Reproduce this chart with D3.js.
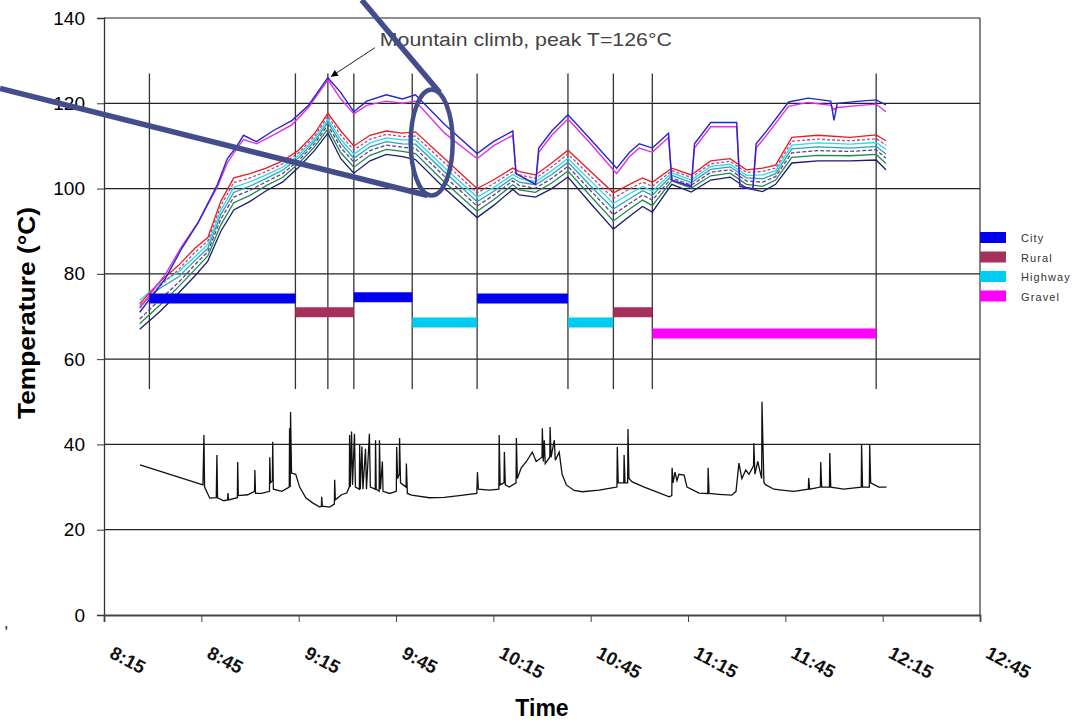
<!DOCTYPE html>
<html><head><meta charset="utf-8">
<script src="https://cdn.jsdelivr.net/npm/d3@7"></script>
<style>
body{margin:0;background:#fff;}
svg{display:block;font-family:Arial,"Liberation Sans",Helvetica,sans-serif;}
</style>
</head><body>
<svg id="chart" width="1073" height="722"></svg>
<script>
// ---------------- DATA ----------------
const xTickLabels = ["8:15","8:45","9:15","9:45","10:15","10:45","11:15","11:45","12:15","12:45"];
const yTicks = [0,20,40,60,80,100,120,140];

// Bundle of component temperature traces (°C)
const bundleTime = ["8:26","8:32","8:38","8:43","8:47","8:51","8:55","9:00","9:05","9:10","9:15","9:20","9:24","9:28","9:32","9:37","9:42","9:47","9:51","10:00","10:10","10:15","10:21","10:23","10:28","10:33","10:38","10:45","10:52","10:57","11:01","11:04","11:10","11:16","11:22","11:28","11:33","11:38","11:42","11:47","11:55","12:05","12:13","12:16"];
const redTemp    = [73,78,82,86,88.5,97,102.5,103.5,104.8,106.5,109,113,117.7,113.5,110,112.5,113.5,113,113.3,107,100,102,104.8,104,103.2,106,109,104,99,101,102.5,101.5,104.8,103.2,106.5,107,104.4,104.8,105.5,112,112.5,112,112.6,111.2];
const pinkTemp   = [72.0,77.0,81.0,85.0,87.7,96.0,101.4,102.5,104.0,105.8,108.4,112.4,117.0,112.5,109.0,111.6,112.7,112.2,112.3,106.0,99.0,101.1,104.0,103.2,102.4,105.1,108.1,102.9,97.7,99.9,101.5,100.5,104.2,102.6,105.8,106.4,103.8,104.0,104.8,111.1,111.6,111.2,111.7,110.2];
const cyanTemp   = [73.8,77.6,80.5,84.0,86.9,94.9,100.3,101.6,103.2,105.0,107.8,111.8,116.3,111.5,108.1,110.7,111.9,111.4,111.4,104.9,98.0,100.2,103.3,102.4,101.6,104.2,107.1,101.8,96.5,98.8,100.5,99.4,103.7,102.0,105.2,105.7,103.1,103.2,104.2,110.2,110.7,110.4,110.8,109.2];
const tealTemp   = [72.5,76.5,79.3,83.1,86.0,93.9,99.1,100.6,102.4,104.3,107.2,111.2,115.6,110.6,107.1,109.8,111.0,110.5,110.4,103.9,96.9,99.3,102.5,101.5,100.9,103.3,106.2,100.6,95.2,97.6,99.5,98.4,103.1,101.4,104.5,105.1,102.5,102.3,103.5,109.3,109.8,109.5,109.9,108.1];
const purpleTemp = [69.4,73.8,78.0,82.1,85.2,92.8,98.0,99.6,101.6,103.5,106.6,110.6,114.9,109.6,106.2,108.9,110.2,109.7,109.4,102.8,95.9,98.4,101.8,100.7,100.1,102.4,105.2,99.5,93.9,96.5,98.5,97.3,102.5,100.8,103.8,104.4,101.8,101.5,102.8,108.4,108.9,108.7,109.1,107.1];
const greenTemp  = [68.3,72.5,77.0,81.0,84.2,91.5,96.7,98.4,100.7,102.6,105.9,109.9,114.0,108.4,105.0,107.8,109.2,108.7,108.2,101.5,94.7,97.3,100.9,99.7,99.1,101.3,104.1,98.2,92.4,95.2,97.3,96.0,101.8,100.1,103.0,103.6,101.0,100.5,102.0,107.3,107.8,107.7,108.0,105.9];
const navyTemp   = [67,71,75.5,79.5,83,90,95,97,99.5,101.5,105,109,113,107,103.6,106.5,108,107.5,106.8,100,93.2,96,99.8,98.5,98,100,102.7,96.5,90.5,93.5,95.8,94.5,101,99.2,102,102.7,100.1,99.3,101,106,106.5,106.5,106.7,104.4];

// Two hottest traces
const topTime = ["8:26","8:34","8:39","8:44","8:50","8:53","8:56","8:58","9:02","9:07","9:13","9:18","9:24","9:28","9:32","9:36","9:42","9:47","9:51","10:00","10:10","10:15","10:21","10:22","10:28","10:29","10:33","10:38","10:45","10:53","10:57","11:00","11:04","11:09","11:10","11:16","11:17","11:22","11:30","11:31","11:35","11:36","11:39","11:46","11:52","11:59","12:00","12:01","12:08","12:13","12:16"];
const blueTemp    = [71,79,86,92,101,107,110,112.5,111,113.5,116,119.5,126,122.5,118,120.5,122,121,122,115,108.2,111,113.5,103.5,101,109.5,113.5,117.3,111.5,104.8,108.5,110.5,109.5,113,102,100.5,110.5,115.5,115.5,100.5,100,110.5,113.3,120.3,121.2,120.5,116,120,120.5,120.8,119.6];
const magentaTemp = [72,80,86.5,92,100.5,106,109.5,111.5,110.5,112.5,115,119,125.5,121,117.5,119.5,120.5,120,120.5,113,107,110,112.5,103.5,101,108.5,112.5,116.3,110.5,103.5,107.5,109.5,108.5,112,102,100.5,109.5,114.5,114.5,100.5,100,109.5,112.3,119.3,120.2,119.5,118.5,119,119.5,119.8,118];

// Ambient temperature (time in minutes after midnight)
const ambientMin = [506.1,525.5,525.8,526.0,527.6,529.6,529.8,530.0,531.9,533.1,533.2,533.4,536.1,536.2,536.4,539.3,541.4,541.5,541.7,543.6,546.0,546.1,546.3,546.9,547.0,547.2,549.8,552.1,552.2,552.4,552.5,552.8,554.1,555.3,557.2,559.3,561.5,562.0,562.1,562.3,564.5,566.0,566.1,566.3,568.2,569.8,570.6,570.7,570.9,571.3,571.6,572.2,572.5,573.7,573.8,574.0,574.5,574.8,575.6,575.9,576.8,577.1,578.6,578.7,578.9,579.8,579.9,580.2,580.8,581.0,583.0,585.1,585.2,585.5,586.0,586.1,586.4,588.1,588.2,588.5,589.8,595.3,599.9,604.5,609.9,610.1,610.4,613.8,616.7,616.8,617.1,618.3,618.4,618.7,619.9,622.0,622.1,622.4,623.6,625.2,627.0,628.2,630.0,630.1,630.4,630.7,631.0,632.4,632.5,632.8,633.8,634.1,635.3,636.2,637.5,639.9,642.4,647.6,651.6,653.1,653.2,653.5,655.2,655.3,655.6,656.4,656.5,656.8,657.8,661.5,665.5,669.2,670.0,670.1,670.4,671.0,671.6,672.2,673.8,674.7,678.4,681.1,681.2,681.5,684.5,688.5,689.8,690.7,691.6,692.8,693.8,695.2,695.3,695.6,696.5,697.7,697.8,698.1,698.4,699.0,701.5,703.9,707.6,712.1,712.2,712.5,715.8,715.9,716.2,718.6,718.7,719.0,723.0,728.4,728.5,728.8,730.9,731.0,731.3,733.8,736.2];
const ambientTemp = [35.2,30.5,42.2,30.0,27.4,27.5,37.5,27.5,26.8,27.0,28.6,27.0,27.5,35.9,28.0,28.2,29.0,34.0,28.5,28.5,29.0,37.0,31.0,31.5,40.6,29.5,29.0,30.0,43.8,30.0,47.6,33.3,33.0,30.0,27.5,26.3,25.3,25.5,27.7,25.5,25.3,26.0,31.7,27.0,28.2,28.6,30.0,42.2,30.0,43.0,30.5,42.5,30.0,29.5,40.0,29.5,39.5,29.5,39.0,29.5,42.5,30.0,29.5,41.0,29.5,29.0,41.0,29.5,36.0,29.0,28.5,29.0,39.4,32.0,33.0,41.5,31.0,30.0,35.5,28.5,28.1,27.5,27.6,28.0,28.5,33.5,29.5,29.3,29.5,42.2,30.5,31.0,38.2,30.5,30.0,31.0,41.5,32.0,34.5,36.0,38.2,36.0,37.0,43.8,36.0,41.0,35.5,37.0,44.1,37.0,41.0,36.3,38.2,33.0,30.5,29.2,28.9,29.3,29.8,30.0,39.4,31.0,31.0,37.5,31.0,31.0,43.6,32.0,31.2,30.0,28.8,27.7,28.0,34.5,31.0,33.5,31.5,33.0,32.8,30.0,28.6,28.5,34.5,28.5,28.3,28.1,29.0,35.6,32.0,34.0,33.0,35.0,40.3,33.0,36.0,32.0,50.0,40.0,31.0,30.5,29.5,29.3,29.0,29.5,32.1,29.5,30.0,35.9,30.0,30.0,38.0,30.0,29.5,30.0,39.9,30.0,30.0,39.9,31.0,30.0,30.0];

// Driving segments
const segmentStart = ["8:29","9:14","9:32","9:50","10:10","10:38","10:52","11:04"];
const segmentEnd   = ["9:14","9:32","9:50","10:10","10:38","10:52","11:04","12:13"];
const segmentType  = ["City","Rural","City","Highway","City","Highway","Rural","Gravel"];
const segmentLevel = [74.2,71.0,74.5,68.6,74.2,68.6,71.0,66.0];
const markerTimes  = ["8:29","9:14","9:24","9:32","9:50","10:10","10:38","10:52","11:04","12:13"];

const legendNames  = ["City","Rural","Highway","Gravel"];
const legendColors = ["#0000ee","#a5305c","#00ccf2","#ff00ff"];

const peakTime = "9:24", peakValue = 126;
const annotationText = "Mountain climb, peak T=126°C";

// ---------------- CHART ----------------
const svg = d3.select("#chart");
const W = 1073, H = 722;
svg.append("rect").attr("width",W).attr("height",H).attr("fill","#fff");

const parseHM = s => { const p = s.split(":").map(Number); return new Date(2000,0,1,p[0],p[1],p[2]||0); };
const fromMin = m => new Date(new Date(2000,0,1,0,0,0).getTime() + m*60000);

const L = 104, R = 980, T = 18, B = 615;
const x = d3.scaleTime().domain([parseHM("8:15"), parseHM("12:45")]).range([L, R]);
const y = d3.scaleLinear().domain([0,140]).range([B, T]);

// gridlines
svg.append("g").selectAll("line").data(yTicks.filter(v=>v>0)).join("line")
  .attr("x1",L).attr("x2",R).attr("y1",d=>y(d)).attr("y2",d=>y(d))
  .attr("stroke","#222").attr("stroke-width",1.2);
svg.append("line").attr("x1",R).attr("x2",R).attr("y1",y(0)).attr("y2",y(140))
  .attr("stroke","#333").attr("stroke-width",1.2);

// segment marker lines
svg.append("g").selectAll("line").data(markerTimes).join("line")
  .attr("x1",d=>x(parseHM(d))).attr("x2",d=>x(parseHM(d)))
  .attr("y1",y(127)).attr("y2",y(53))
  .attr("stroke","#333").attr("stroke-width",1.3);

// axes
const yAxis = svg.append("g").attr("transform",`translate(${L},0)`)
  .call(d3.axisLeft(y).tickValues(yTicks).tickSize(7).tickPadding(12).tickFormat(d3.format("d")));
yAxis.select(".domain").attr("stroke","#333").attr("stroke-width",1.3);
yAxis.selectAll(".tick line").attr("stroke","#333");
yAxis.selectAll("text").attr("font-size",19).attr("fill","#000").attr("font-family","Arial, 'Liberation Sans', sans-serif");

const tickDates = xTickLabels.map(parseHM);
const xAxis = svg.append("g").attr("transform",`translate(0,${B})`)
  .call(d3.axisBottom(x).tickValues(tickDates).tickSize(7).tickFormat((d,i)=>xTickLabels[i]));
xAxis.select(".domain").attr("stroke","#444").attr("stroke-width",1.8);
xAxis.selectAll(".tick line").attr("stroke","#444");
xAxis.selectAll("text")
  .attr("y",0).attr("dy",0).attr("x",0)
  .attr("transform","translate(4,42) rotate(28)")
  .style("text-anchor","start")
  .attr("font-size",18.5).attr("font-weight","bold").attr("fill","#111")
  .attr("font-family","Arial, 'Liberation Sans', sans-serif");

// axis titles
svg.append("text").attr("transform","translate(35,313) rotate(-90)")
  .attr("text-anchor","middle").attr("font-size",23).attr("font-weight","bold")
  .attr("textLength",212).attr("lengthAdjust","spacingAndGlyphs")
  .text("Temperature (°C)");
svg.append("text").attr("x",(L+R)/2).attr("y",716)
  .attr("text-anchor","middle").attr("font-size",23).attr("font-weight","bold")
  .text("Time");
svg.append("text").attr("x",4).attr("y",628).attr("font-size",16).text(",");

// lines
const line = d3.line().x(d=>x(d.t)).y(d=>y(d.v));
const mk = (times, vals, parser) => vals.map((v,i)=>({t:parser(times[i]), v}));

const bundle = [
  {vals:navyTemp,   color:"#1c1c70", dash:null},
  {vals:greenTemp,  color:"#1f8a45", dash:null},
  {vals:purpleTemp, color:"#6a3a9a", dash:"4,2"},
  {vals:tealTemp,   color:"#26a6b0", dash:null},
  {vals:cyanTemp,   color:"#30d8ec", dash:null},
  {vals:pinkTemp,   color:"#c8408a", dash:"3,2"},
  {vals:redTemp,    color:"#e4201c", dash:null}
];
const gLines = svg.append("g").attr("fill","none");
bundle.forEach(s=>{
  gLines.append("path").attr("d", line(mk(bundleTime, s.vals, parseHM)))
    .attr("stroke", s.color).attr("stroke-width",1.3)
    .attr("stroke-dasharray", s.dash);
});
gLines.append("path").attr("d", line(mk(topTime, magentaTemp, parseHM)))
  .attr("stroke","#e030e0").attr("stroke-width",1.4);
gLines.append("path").attr("d", line(mk(topTime, blueTemp, parseHM)))
  .attr("stroke","#2626cc").attr("stroke-width",1.4);

gLines.append("path").attr("d", line(mk(ambientMin, ambientTemp, fromMin)))
  .attr("stroke","#111").attr("stroke-width",1.3);

// segment bars
const colorOf = d3.scaleOrdinal().domain(legendNames).range(legendColors);
svg.append("g").selectAll("line").data(segmentType).join("line")
  .attr("x1",(d,i)=>x(parseHM(segmentStart[i]))).attr("x2",(d,i)=>x(parseHM(segmentEnd[i])))
  .attr("y1",(d,i)=>y(segmentLevel[i])).attr("y2",(d,i)=>y(segmentLevel[i]))
  .attr("stroke",d=>colorOf(d)).attr("stroke-width",10);

// legend
const lg = svg.append("g");
legendNames.forEach((n,i)=>{
  lg.append("rect").attr("x",980).attr("y",232+i*19.5).attr("width",26).attr("height",11).attr("fill",colorOf(n));
  lg.append("text").attr("x",1021).attr("y",242+i*19.5).attr("font-size",11)
    .attr("letter-spacing",1.1).attr("fill","#333").text(n);
});

// annotation
const tipX = x(parseHM(peakTime)) + 3, tipY = y(peakValue) - 1;
const defs = svg.append("defs");
defs.append("marker").attr("id","arr").attr("viewBox","0 0 10 10").attr("refX",10).attr("refY",5)
  .attr("markerWidth",9).attr("markerHeight",7).attr("orient","auto")
  .append("path").attr("d","M0,0 L10,5 L0,10 z").attr("fill","#000");
svg.append("line").attr("x1",tipX+44).attr("y1",tipY-29).attr("x2",tipX).attr("y2",tipY)
  .attr("stroke","#222").attr("stroke-width",1).attr("marker-end","url(#arr)");
svg.append("text").attr("x",tipX+49).attr("y",tipY-31).attr("font-size",19)
  .attr("textLength",292).attr("lengthAdjust","spacingAndGlyphs")
  .attr("fill","#444").text(annotationText);

// magnifier callout
const cx = x(parseHM("9:56")) , cy = y(110.8);
const calloutColor = "#434d8c";
const cg = svg.append("g").attr("fill","none").attr("stroke",calloutColor);
cg.append("ellipse").attr("cx",cx).attr("cy",cy).attr("rx",21).attr("ry",53)
  .attr("stroke-width",4.5);
cg.append("line").attr("x1",0).attr("y1",cy-54).attr("x2",cx-4).attr("y2",cy+53)
  .attr("stroke-width",5.5);
cg.append("line").attr("x1",cx-70).attr("y1",0).attr("x2",cx+8).attr("y2",cy-50)
  .attr("stroke-width",5.5);
</script>
</body></html>
